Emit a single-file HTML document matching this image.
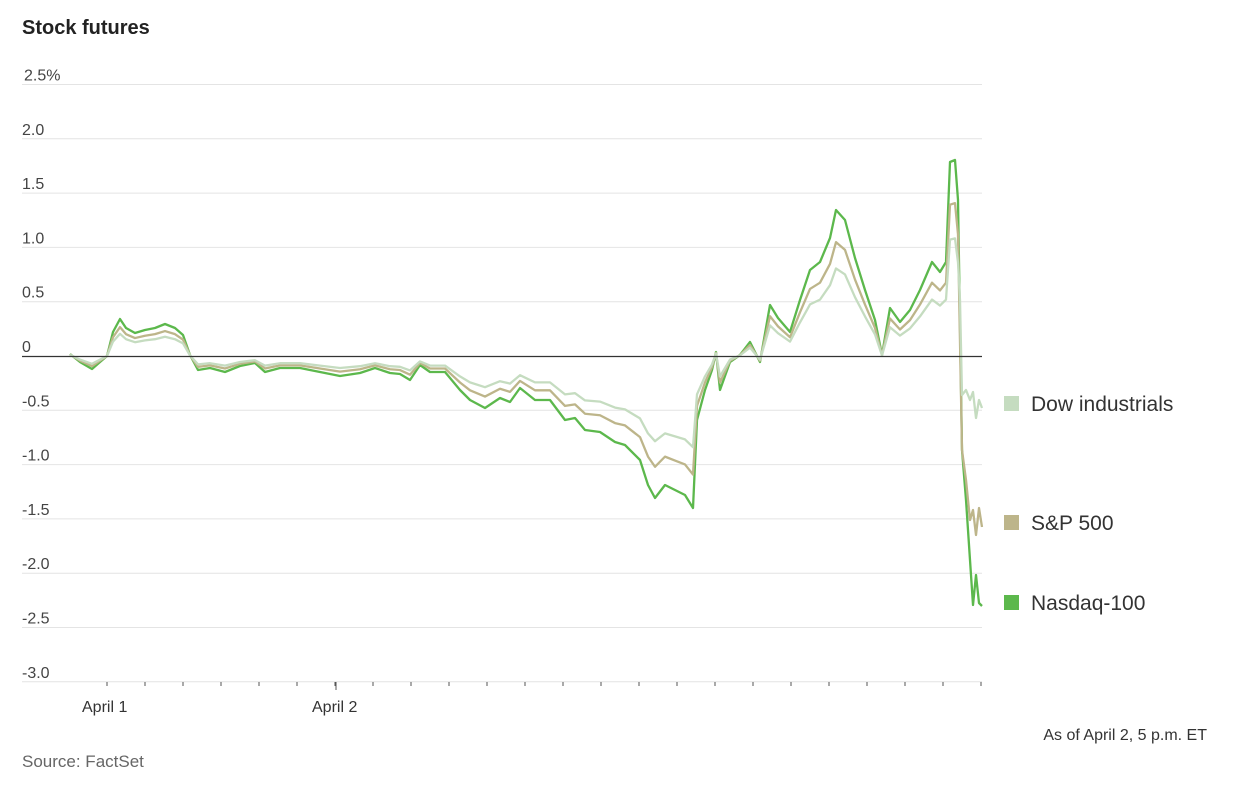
<!DOCTYPE html>
<html><head><meta charset="utf-8"><style>
body{margin:0;background:#fff;width:1242px;height:780px;overflow:hidden;font-family:"Liberation Sans",sans-serif;}
</style></head><body>
<svg id="s" width="1242" height="780" xmlns="http://www.w3.org/2000/svg" font-family="Liberation Sans, sans-serif">
<text x="22" y="34" font-size="20" font-weight="bold" fill="#222">Stock futures</text>
<g id="grid"></g>
<g id="lines" fill="none" stroke-linejoin="round" stroke-width="2.3"></g>
<g font-size="21" fill="#333">
<rect x="1004" y="396" width="15" height="15" fill="#c5dcc0"/><text x="1031" y="411">Dow industrials</text>
<rect x="1004" y="515" width="15" height="15" fill="#bdb58a"/><text x="1031" y="530">S&amp;P 500</text>
<rect x="1004" y="595" width="15" height="15" fill="#5cb84c"/><text x="1031" y="610">Nasdaq-100</text>
</g>
<text x="82" y="712" font-size="16" fill="#333">April 1</text>
<text x="312" y="712" font-size="16" fill="#333">April 2</text>
<text x="1207" y="740" font-size="16" fill="#333" text-anchor="end">As of April 2, 5 p.m. ET</text>
<text x="22" y="767" font-size="17" fill="#666">Source: FactSet</text>
</svg>
<script>
var NS="http://www.w3.org/2000/svg",g=document.getElementById('grid'),L=document.getElementById('lines');
function el(t,a,p){var e=document.createElementNS(NS,t);for(var k in a)e.setAttribute(k,a[k]);p.appendChild(e);return e;}
var labs=["2.5%","2.0","1.5","1.0","0.5","0","-0.5","-1.0","-1.5","-2.0","-2.5","-3.0"];
for(var i=0;i<12;i++){var y=84.5+i*54.3;
 if(i!=5)el('line',{x1:22,x2:982,y1:y,y2:y,stroke:'#e4e4e4','stroke-width':1},g);
 var t=el('text',{x:i==0?24:22,y:y-4,'font-size':16,fill:'#444'},g);t.textContent=labs[i];}
for(var x=107;x<=982;x+=38.0){el('line',{x1:x,x2:x,y1:682,y2:686,stroke:'#555','stroke-width':1},g);}
el('line',{x1:336,x2:336,y1:682,y2:690,stroke:'#555','stroke-width':1},g);
var N=[[70,354],[80,362],[92,369],[100,362],[107,356],[113,332],[120,319],[126,328],[135,333],[145,330],[155,328],[165,324],[175,328],[183,335],[190,355],[198,370],[210,368],[225,372],[240,366],[255,363],[265,372],[280,368],[300,368],[320,372],[340,376],[360,373],[375,368],[390,373],[400,374],[410,380],[420,365],[430,372],[445,372],[460,390],[470,400],[485,408],[500,398],[510,402],[520,388],[535,400],[550,400],[565,420],[575,418],[585,430],[600,432],[615,442],[625,445],[640,460],[648,485],[655,498],[665,485],[675,490],[685,495],[693,508],[697,420],[705,390],[712,370],[716,352],[720,390],[730,362],[740,355],[750,342],[760,362],[770,305],[778,318],[790,332],[800,300],[810,270],[820,262],[830,238],[836,210],[845,220],[855,258],[865,290],[875,320],[882,355],[890,308],[900,322],[910,310],[920,290],[932,262],[940,272],[946,262],[950,162],[955,160],[958,200]];
function scale(f){return N.map(function(p){return [p[0],356+(p[1]-356)*f];});}
var S=scale(0.78),D=scale(0.6);
N=N.concat([[962,450],[966,500],[970,560],[973,605],[976,575],[979,603],[982,606]]);
S=S.concat([[962,450],[966,480],[970,520],[973,510],[976,535],[979,508],[982,527]]);
D=D.concat([[960,300],[962,395],[966,390],[970,400],[973,392],[976,418],[979,400],[982,408]]);
function pl(a,c){el('polyline',{points:a.map(function(p){return p.join(',')}).join(' '),stroke:c},L);}
pl(N,'#5cb84c');pl(S,'#bdb58a');pl(D,'#c5dcc0');
el('line',{x1:22,x2:982,y1:356.5,y2:356.5,stroke:'#333','stroke-width':1.3},L);
</script>
</body></html>
